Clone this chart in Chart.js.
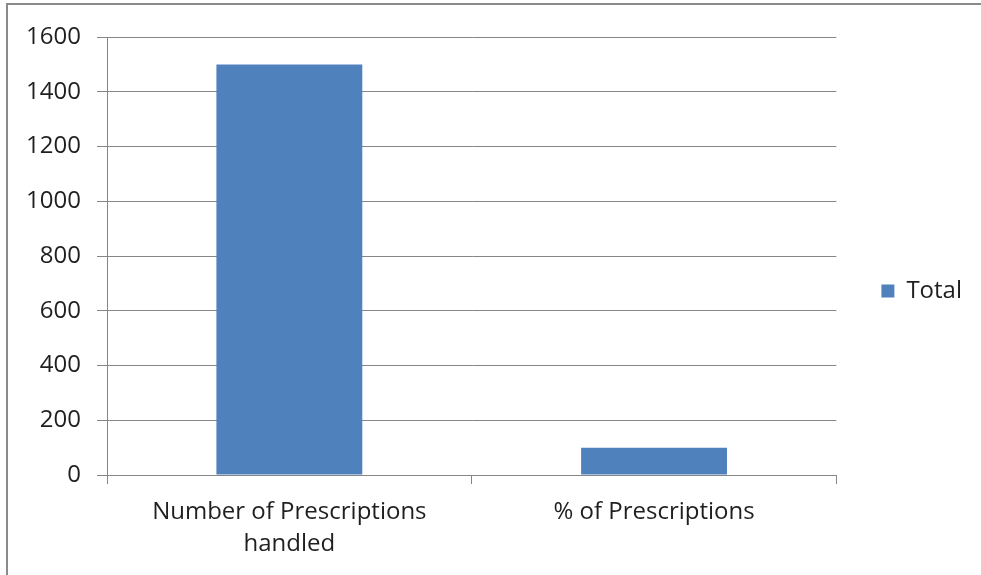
<!DOCTYPE html>
<html>
<head>
<meta charset="utf-8">
<script src="https://cdn.jsdelivr.net/npm/chart.js@4/dist/chart.umd.min.js"></script>
<style>
  html, body { margin: 0; padding: 0; background: #fff; }
  #wrap { position: relative; width: 981px; height: 575px; }
  #frame {
    position: absolute; left: 6px; top: 3px; right: -10px; bottom: -10px;
    border-top: 2px solid #8a8a8a; border-left: 2px solid #8a8a8a;
    pointer-events: none;
  }
  canvas { display: block; }
</style>
</head>
<body>
<div id="wrap">
  <canvas id="chart" width="981" height="575"></canvas>
  <div id="frame"></div>
</div>
<script>
  // data
  const categories = [["Number of Prescriptions", "handled"], "% of Prescriptions"]
  const totals = [1500, 100]
  const seriesName = "Total"
  const yMax = 1600
  const yStep = 200

  const barColor = "#4F81BD"
  const lineColor = "#868686"
  const textColor = "#1f1f1f"
  const font = { family: "'Open Sans', sans-serif", size: 24 }

  // legend sits a little higher than the full-height box would put it
  const liftLegend = {
    id: "liftLegend",
    afterLayout(chart) {
      chart.legend.bottom -= 30
    }
  }

  const ctx = document.getElementById("chart").getContext("2d")

  new Chart(ctx, {
    type: "bar",
    data: {
      labels: categories,
      datasets: [{
        label: seriesName,
        data: totals,
        backgroundColor: barColor,
        borderWidth: 0,
        categoryPercentage: 1,
        barPercentage: 0.4
      }]
    },
    options: {
      responsive: false,
      animation: false,
      layout: { padding: { top: 37, right: 9, bottom: 0, left: 0 } },
      plugins: {
        tooltip: { enabled: false },
        legend: {
          position: "right",
          labels: {
            boxWidth: 13,
            boxHeight: 13,
            padding: 45,
            color: textColor,
            font: font
          }
        }
      },
      scales: {
        x: {
          afterFit: (scale) => { scale.height = 100 },
          border: { color: lineColor, width: 1 },
          grid: {
            offset: true,
            drawOnChartArea: false,
            drawTicks: true,
            tickLength: 9,
            color: lineColor
          },
          ticks: {
            color: textColor,
            font: { ...font, lineHeight: 1.35 },
            padding: 12,
            maxRotation: 0
          }
        },
        y: {
          min: 0,
          max: yMax,
          afterFit: (scale) => { scale.width = 107 },
          border: { color: lineColor, width: 1 },
          grid: {
            color: lineColor,
            tickLength: 10
          },
          ticks: {
            stepSize: yStep,
            color: textColor,
            font: font,
            padding: 16,
            callback: (v) => String(v)
          }
        }
      }
    },
    plugins: [liftLegend]
  })
</script>
</body>
</html>
